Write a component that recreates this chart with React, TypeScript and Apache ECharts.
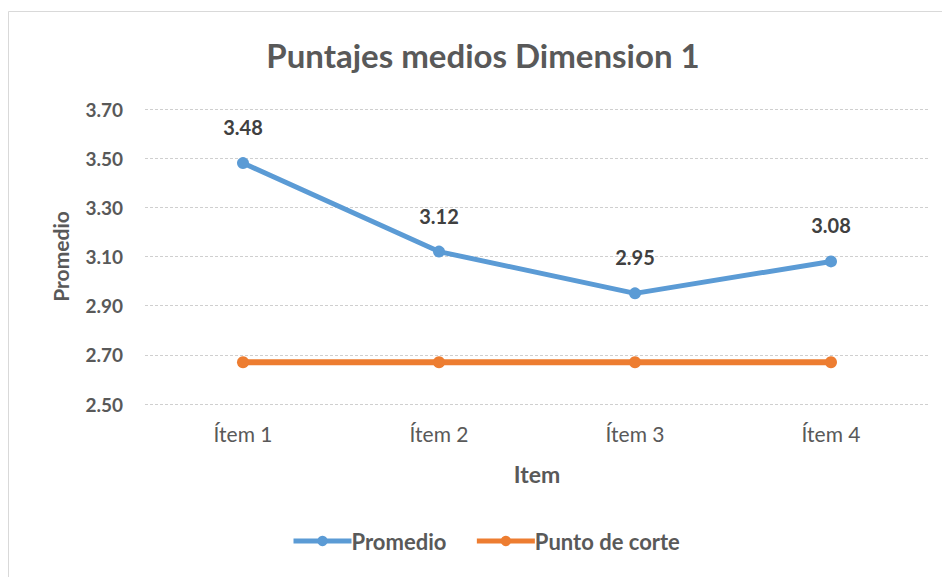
import React, { useEffect, useRef } from "react";
import * as echarts from "echarts";

const categories = ["Ítem 1", "Ítem 2", "Ítem 3", "Ítem 4"];
const promedio = [3.48, 3.12, 2.95, 3.08];
const puntoCorte = [2.67, 2.67, 2.67, 2.67];
const yMin = 2.5;
const yMax = 3.7;

const FONT = "Lato, 'Open Sans', sans-serif";
const GRAY = "#595959";

export default function App() {
  const ref = useRef<HTMLDivElement>(null);
  useEffect(() => {
    const chart = echarts.init(ref.current!, null, { renderer: "svg" });
    chart.setOption({
      animation: false,
      backgroundColor: "#ffffff",
      textStyle: { fontFamily: FONT },
      title: {
        text: "Puntajes medios Dimension 1",
        left: 478,
        top: 33,
        textAlign: "center",
        textStyle: { fontFamily: FONT, fontSize: 33, fontWeight: "bold", color: GRAY },
      },
      graphic: [
        {
          type: "rect",
          shape: { x: 8.5, y: 11.5, width: 960, height: 600 },
          style: { fill: "none", stroke: "#d9d9d9", lineWidth: 1 },
          silent: true,
        },
      ],
      grid: { left: 145, right: 13, top: 109, bottom: 173, containLabel: false },
      xAxis: {
        type: "category",
        data: categories,
        boundaryGap: true,
        name: "Item",
        nameLocation: "middle",
        nameGap: 58,
        nameTextStyle: { fontFamily: FONT, fontSize: 23, fontWeight: "bold", color: GRAY },
        axisLine: { show: false },
        axisTick: { show: false },
        axisLabel: { margin: 19, fontFamily: FONT, fontSize: 21, color: GRAY },
      },
      yAxis: {
        type: "value",
        min: yMin,
        max: yMax,
        interval: 0.1,
        name: "Promedio",
        nameLocation: "middle",
        nameGap: 74,
        nameRotate: 90,
        nameTextStyle: { fontFamily: FONT, fontSize: 21, fontWeight: "bold", color: GRAY },
        axisLine: { show: false },
        axisTick: { show: false },
        axisLabel: {
          margin: 22,
          fontFamily: FONT,
          fontSize: 19,
          fontWeight: "bold",
          color: GRAY,
          formatter: (v: number) => (Math.round(v * 10) % 2 === 1 ? v.toFixed(2) : ""),
        },
        splitLine: {
          show: true,
          lineStyle: { color: ["#cfcfcf", "rgba(0,0,0,0)"], width: 1, type: [3, 2] },
        },
      },
      legend: {
        bottom: 20,
        left: 286,
        itemWidth: 58,
        itemHeight: 13,
        itemGap: 28,
        lineStyle: { width: 5 },
        textStyle: { fontFamily: FONT, fontSize: 22, fontWeight: "bold", color: GRAY, padding: [0, 0, 0, -5] },
        data: ["Promedio", "Punto de corte"],
      },
      series: [
        {
          name: "Promedio",
          type: "line",
          data: promedio,
          color: "#5b9bd5",
          lineStyle: { width: 5, color: "#5b9bd5" },
          symbol: "circle",
          symbolSize: 12,
          itemStyle: { color: "#5b9bd5" },
          label: {
            show: true,
            position: "top",
            distance: 20,
            fontFamily: FONT,
            fontSize: 20,
            fontWeight: "bold",
            color: "#404040",
            formatter: (p: any) => Number(p.value).toFixed(2),
          },
        },
        {
          name: "Punto de corte",
          type: "line",
          data: puntoCorte,
          color: "#ed7d31",
          lineStyle: { width: 6, color: "#ed7d31" },
          symbol: "circle",
          symbolSize: 12,
          itemStyle: { color: "#ed7d31" },
        },
      ],
    });
    return () => chart.dispose();
  }, []);
  return (
    <div
      ref={ref}
      style={{ position: "fixed", left: 0, top: 0, width: 942, height: 577 }}
    />
  );
}
